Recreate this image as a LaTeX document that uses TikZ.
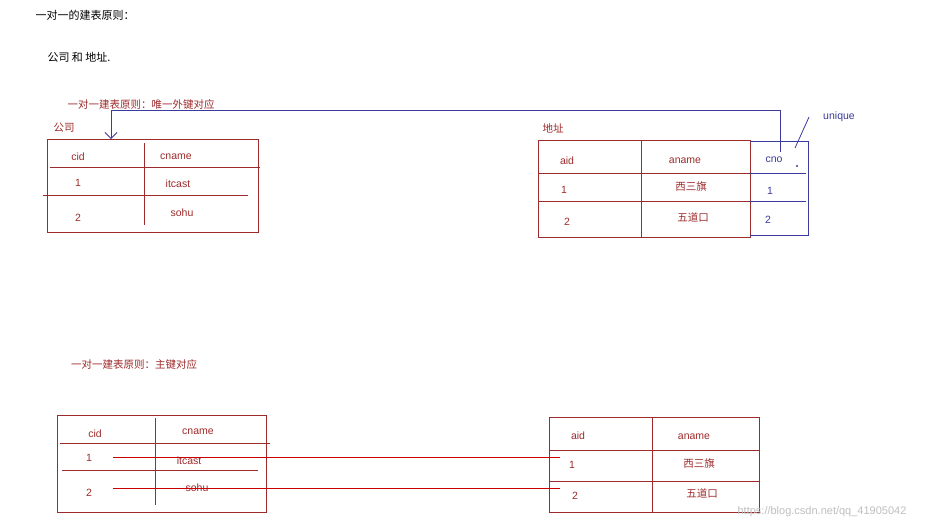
\documentclass[tikz,border=0pt]{standalone}
\usepackage{fontspec}
\usetikzlibrary{arrows.meta}
\setmainfont{Liberation Sans}
\newfontfamily\cjk{Noto Sans CJK SC}
\definecolor{rd}{HTML}{9E2B2B}
\definecolor{bl}{HTML}{3B3B9E}
\begin{document}
\begin{tikzpicture}[x=1pt,y=-1pt,
  rl/.style={draw=rd,line width=0.8pt},
  bline/.style={draw=bl,line width=0.8pt},
  rt/.style={text=rd,font=\fontsize{10.5}{12}\selectfont,inner sep=0},
  bt/.style={text=bl,font=\fontsize{10.5}{12}\selectfont,inner sep=0},
  ct/.style={text=rd,font=\cjk\fontsize{10.5}{12}\selectfont,inner sep=0},
  kt/.style={text=black,font=\cjk\fontsize{11}{12}\selectfont,inner sep=0},
  conn/.style={draw=red!80!black,line width=0.6pt}]
\useasboundingbox[fill=white] (0,0) rectangle (949,530);
\node[kt] (h1) at (85,15) {一对一的建表原则：};
\node[kt] (h2) at (79,57) {公司 和 地址.};
\node[ct] (t1) at (141,105) {一对一建表原则：唯一外键对应};
\node[ct] (l1) at (64,128) {公司};
\node[ct] (l2) at (553,128) {地址};
% table 1
\draw[rl] (47,139) rectangle (258,232);
\draw[rl] (144,143) -- (144,225);
\draw[rl] (50,167) -- (260,167);
\draw[rl] (43,195) -- (248,195);
\node[rt] (a1) at (78,157) {cid};
\node[rt] (a2) at (176,157) {cname};
\node[rt] (a3) at (78,183) {1};
\node[rt] (a4) at (178,184) {itcast};
\node[rt] (a5) at (78,218) {2};
\node[rt] (a6) at (182,213) {sohu};
% table 2
\draw[rl] (538,140) rectangle (750,237);
\draw[rl] (641,140) -- (641,237);
\draw[rl] (538,173) -- (750,173);
\draw[rl] (538,201) -- (750,201);
\draw[bline] (750,141) -- (808,141) -- (808,235) -- (750,235);
\draw[bline] (750,173) -- (806,173);
\draw[bline] (750,201) -- (806,201);
\node[rt] (b1) at (567,161) {aid};
\node[rt] (b2) at (685,161) {aname};
\node[bt] (cno) at (774,160) {cno};
\node[rt] (b3) at (564,190) {1};
\node[ct] (b4) at (691,187) {西三旗};
\node[bt] (b5) at (770,191) {1};
\node[rt] (b6) at (567,222) {2};
\node[ct] (b7) at (693,217) {五道口};
\node[bt] (b8) at (768,220) {2};
\fill[bl] (797,166) circle (1.2);
\node[bt] (uq) at (839,117) {unique};
\coordinate (u1) at (795,148);
\coordinate (u2) at (809,117);
\draw[bline] (u1) -- (u2);
\coordinate (fk) at (780,152);
\coordinate (pk) at (111,139);
\draw[bline,-{Straight Barb[length=6pt,width=12pt]}] (fk) -- (780,110) -- (111,110) -- (pk);
% bottom
\node[ct] (t2) at (134,364) {一对一建表原则：主键对应};
\draw[rl] (57,415) rectangle (266,512);
\draw[rl] (155,418) -- (155,505);
\draw[rl] (60,443) -- (270,443);
\draw[rl] (62,470) -- (258,470);
\node[rt] (c1) at (95,434) {cid};
\node[rt] (c2) at (198,432) {cname};
\node[rt] (c3) at (89,458) {1};
\node[rt] (c4) at (189,461) {itcast};
\node[rt] (c5) at (89,493) {2};
\node[rt] (c6) at (197,488) {sohu};
\draw[rl] (549,417) rectangle (759,512);
\draw[rl] (652,417) -- (652,512);
\draw[rl] (549,450) -- (759,450);
\draw[rl] (549,481) -- (759,481);
\node[rt] (d1) at (578,436) {aid};
\node[rt] (d2) at (694,437) {aname};
\node[rt] (d3) at (572,465) {1};
\node[ct] (d4) at (699,464) {西三旗};
\node[rt] (d5) at (575,496) {2};
\node[ct] (d6) at (702,493) {五道口};
\coordinate (s1) at (113,457);
\coordinate (e1) at (560,457);
\coordinate (s2) at (113,488);
\coordinate (e2) at (560,488);
\draw[conn] (s1) -- (e1);
\draw[conn] (s2) -- (e2);
\node[text=black!25,font=\fontsize{11}{12}\selectfont,inner sep=0] (wm) at (822,512) {https://blog.csdn.net/qq\_41905042};
\end{tikzpicture}
\end{document}
